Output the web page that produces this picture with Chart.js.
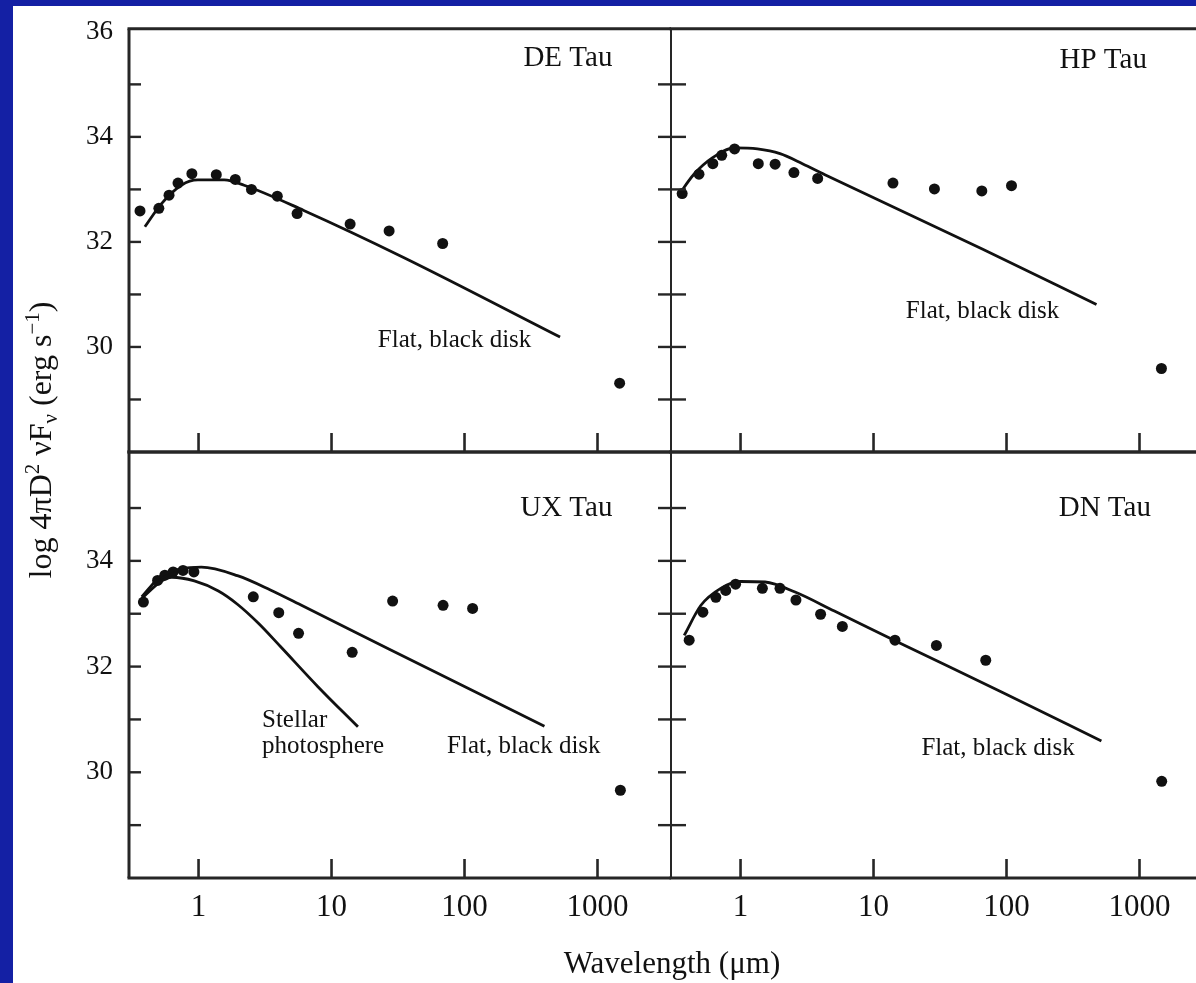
<!DOCTYPE html>
<html>
<head>
<meta charset="utf-8">
<script src="https://cdn.jsdelivr.net/npm/chart.js@4.4.1/dist/chart.umd.min.js"></script>
<style>
  html, body { margin: 0; padding: 0; width: 1196px; height: 983px; overflow: hidden; background: #1420a4; }
  #sheet { position: absolute; left: 13px; top: 6px; width: 1183px; height: 977px; background: #fff; }
  canvas { position: absolute; left: 0; top: 0; }
</style>
</head>
<body>
<div id="sheet"></div>
<canvas id="p-de" width="1220" height="983"></canvas>
<canvas id="p-hp" width="1220" height="983"></canvas>
<canvas id="p-ux" width="1220" height="983"></canvas>
<canvas id="p-dn" width="1220" height="983"></canvas>
<script>
// ---- axes ----
const waveTicks = [1, 10, 100, 1000];
const fluxTickMarks = [29, 30, 31, 32, 33, 34, 35];
const fluxLabelsTop = [30, 32, 34, 36];
const fluxLabelsBottom = [30, 32, 34];

// ---- DE Tau ----
const deWave = [0.363, 0.503, 0.600, 0.701, 0.891, 1.36, 1.89, 2.50, 3.91, 5.51, 13.8, 27.1, 68.5, 1467];
const deFlux = [32.59, 32.64, 32.89, 33.12, 33.30, 33.28, 33.19, 33.00, 32.87, 32.54, 32.34, 32.21, 31.97, 29.31];
const deDiskWave = [0.395, 0.527, 0.743, 0.988, 1.56, 2.20, 6.18, 34.5, 523];
const deDiskFlux = [32.29, 32.73, 33.08, 33.18, 33.18, 33.08, 32.60, 31.71, 30.19];

// ---- HP Tau ----
const hpWave = [0.364, 0.487, 0.619, 0.722, 0.902, 1.36, 1.82, 2.52, 3.80, 14.0, 28.7, 65.2, 109, 1462];
const hpFlux = [32.92, 33.29, 33.49, 33.65, 33.77, 33.49, 33.48, 33.32, 33.21, 33.12, 33.01, 32.97, 33.07, 29.59];
const hpDiskWave = [0.340, 0.443, 0.613, 0.905, 1.34, 1.98, 2.92, 4.31, 66.3, 475];
const hpDiskFlux = [32.88, 33.28, 33.60, 33.79, 33.77, 33.68, 33.49, 33.28, 31.86, 30.81];

// ---- UX Tau ----
const uxWave = [0.385, 0.492, 0.558, 0.644, 0.764, 0.923, 2.58, 4.01, 5.65, 14.3, 28.8, 69.0, 115, 1486];
const uxFlux = [33.22, 33.63, 33.73, 33.79, 33.82, 33.79, 33.32, 33.02, 32.63, 32.27, 33.24, 33.16, 33.10, 29.66];
const uxDiskWave = [0.374, 0.527, 0.743, 1.05, 1.96, 3.47, 6.15, 27.2, 399];
const uxDiskFlux = [33.32, 33.72, 33.85, 33.88, 33.72, 33.45, 33.14, 32.33, 30.87];
const uxStarWave = [0.374, 0.527, 0.63, 0.93, 1.41, 1.96, 2.82, 4.13, 7.9, 15.8];
const uxStarFlux = [33.29, 33.62, 33.69, 33.62, 33.43, 33.18, 32.82, 32.38, 31.62, 30.86];

// ---- DN Tau ----
const dnWave = [0.411, 0.521, 0.652, 0.774, 0.918, 1.46, 1.98, 2.61, 4.00, 5.83, 14.5, 29.7, 69.8, 1469];
const dnFlux = [32.50, 33.03, 33.31, 33.44, 33.56, 33.48, 33.48, 33.26, 32.99, 32.76, 32.50, 32.40, 32.12, 29.83];
const dnDiskWave = [0.377, 0.504, 0.71, 1.0, 1.53, 2.57, 5.08, 16.9, 93.4, 517];
const dnDiskFlux = [32.59, 33.16, 33.48, 33.61, 33.60, 33.41, 33.05, 32.41, 31.51, 30.59];

const SERIF = '"Liberation Serif", "Times New Roman", serif';
const INK = '#111';
Chart.defaults.font.family = SERIF;
Chart.defaults.color = INK;

const toXY = (xs, ys) => xs.map((x, i) => ({ x, y: ys[i] }));

/** frame lines + inward tick marks, all placed through the chart's scales */
const framePlugin = {
  id: 'frame',
  afterDraw(chart, args, o) {
    const { ctx, chartArea: a, scales: { x, y } } = chart;
    const seg = (x1, y1, x2, y2, w) => {
      ctx.lineWidth = w;
      ctx.beginPath(); ctx.moveTo(x1, y1); ctx.lineTo(x2, y2); ctx.stroke();
    };
    ctx.save();
    ctx.strokeStyle = '#262626';
    seg(a.left - 1.5, a.top, a.right, a.top, 3);
    seg(a.left - 1.5, a.bottom, a.right, a.bottom, 3);
    seg(a.left, a.top, a.left, a.bottom, o.leftWidth);
    for (const v of fluxTickMarks) {
      const py = y.getPixelForValue(v);
      seg(a.left + o.tickFrom, py, a.left + o.tickTo, py, 2.4);
    }
    for (const v of waveTicks) {
      const px = x.getPixelForValue(v);
      seg(px, a.bottom, px, a.bottom - 19, 2.6);
    }
    ctx.restore();
  }
};

/** labels anchored in data coordinates */
const notesPlugin = {
  id: 'notes',
  afterDatasetsDraw(chart, args, o) {
    const { ctx, scales: { x, y } } = chart;
    ctx.save();
    ctx.fillStyle = INK;
    ctx.textBaseline = 'middle';
    for (const t of o.items || []) {
      ctx.font = t.font;
      ctx.textAlign = t.align || 'left';
      ctx.fillText(t.text, x.getPixelForValue(t.x), y.getPixelForValue(t.y));
    }
    ctx.restore();
  }
};

/** shared axis titles (drawn once, from the lower-left panel) */
const axisTitlesPlugin = {
  id: 'axisTitles',
  afterDraw(chart) {
    const { ctx, chartArea: a } = chart;
    ctx.save();
    ctx.fillStyle = INK;
    ctx.font = `31px ${SERIF}`;
    ctx.textAlign = 'center';
    ctx.textBaseline = 'middle';
    ctx.fillText('Wavelength (\u03bcm)', a.right + 1, a.bottom + 87);

    const parts = [
      ['log 4\u03c0D', 0], ['2', -1], [' \u03bdF', 0], ['\u03bd', 1], [' (erg s', 0], ['\u22121', -1], [')', 0]
    ];
    const fontFor = (k) => (k === 0 ? `32px ${SERIF}` : `21px ${SERIF}`);
    let total = 0;
    for (const [s, k] of parts) { ctx.font = fontFor(k); total += ctx.measureText(s).width; }
    ctx.translate(a.left - 88, a.top - 12);
    ctx.rotate(-Math.PI / 2);
    ctx.textAlign = 'left';
    ctx.textBaseline = 'alphabetic';
    let u = -total / 2;
    for (const [s, k] of parts) {
      ctx.font = fontFor(k);
      const v = 10 + (k < 0 ? -12 : k > 0 ? 6 : 0);
      ctx.fillText(s, u, v);
      u += ctx.measureText(s).width;
    }
    ctx.restore();
  }
};

function panelChart(id, cfg) {
  const lineSet = (wave, flux) => ({
    data: toXY(wave, flux),
    showLine: true,
    borderColor: INK,
    borderWidth: 2.8,
    pointRadius: 0,
    cubicInterpolationMode: 'monotone',
    clip: false,
  });
  return new Chart(document.getElementById(id).getContext('2d'), {
    type: 'scatter',
    data: {
      datasets: [
        ...cfg.models.map(m => lineSet(m[0], m[1])),
        {
          data: toXY(cfg.wave, cfg.flux),
          showLine: false,
          pointRadius: 5.5,
          pointBackgroundColor: INK,
          pointBorderWidth: 0,
          clip: false,
        }
      ]
    },
    options: {
      responsive: false,
      animation: false,
      events: [],
      layout: { padding: cfg.padding, autoPadding: false },
      plugins: {
        legend: { display: false },
        tooltip: { enabled: false },
        frame: cfg.frame,
        notes: { items: cfg.notes },
      },
      scales: {
        x: {
          type: 'logarithmic',
          min: 0.33, max: 3570,
          afterBuildTicks: (s) => { s.ticks = waveTicks.map(v => ({ value: v })); },
          afterFit: (s) => { s.height = cfg.showX ? 105 : 0; },
          grid: { display: false, drawTicks: false },
          border: { display: false },
          ticks: {
            display: cfg.showX, padding: 11, autoSkip: false, maxRotation: 0,
            font: { family: SERIF, size: 31 }, color: INK,
            callback: (v) => String(v),
          },
        },
        y: {
          type: 'linear',
          min: 28, max: 36.06,
          afterBuildTicks: (s) => { s.ticks = (cfg.yLabels || []).map(v => ({ value: v })); },
          afterFit: (s) => { s.width = cfg.yLabels ? 116 : 0; },
          grid: { display: false, drawTicks: false },
          border: { display: false },
          ticks: {
            display: !!cfg.yLabels, padding: 16, autoSkip: false,
            font: { family: SERIF, size: 27, lineHeight: 0.8 }, color: INK,
          },
        },
      },
    },
    plugins: [framePlugin, notesPlugin, ...(cfg.extra || [])],
  });
}

const leftFrame = { leftWidth: 3, tickFrom: 0, tickTo: 12 };
const rightFrame = { leftWidth: 2, tickFrom: -13, tickTo: 15 };
const title = (text, x, y) => ({ text, x, y, align: 'right', font: `29px ${SERIF}` });
const note = (text, x, y) => ({ text, x, y, align: 'left', font: `25px ${SERIF}` });

panelChart('p-de', {
  wave: deWave, flux: deFlux,
  models: [[deDiskWave, deDiskFlux]],
  yLabels: fluxLabelsTop, showX: false,
  padding: { left: 13, top: 28.7, right: 549, bottom: 531 },
  frame: leftFrame,
  notes: [title('DE Tau', 1294, 35.5), note('Flat, black disk', 22.3, 30.13)],
});

panelChart('p-hp', {
  wave: hpWave, flux: hpFlux,
  models: [[hpDiskWave, hpDiskFlux]],
  yLabels: null, showX: false,
  padding: { left: 671, top: 28.7, right: 7, bottom: 531 },
  frame: rightFrame,
  notes: [title('HP Tau', 1137, 35.46), note('Flat, black disk', 17.5, 30.67)],
});

panelChart('p-ux', {
  wave: uxWave, flux: uxFlux,
  models: [[uxDiskWave, uxDiskFlux], [uxStarWave, uxStarFlux]],
  yLabels: fluxLabelsBottom, showX: true,
  padding: { left: 13, top: 452, right: 549, bottom: 0 },
  frame: leftFrame,
  notes: [
    title('UX Tau', 1294, 34.99),
    note('Stellar', 3.0, 30.99), note('photosphere', 3.0, 30.48),
    note('Flat, black disk', 74, 30.49),
  ],
  extra: [axisTitlesPlugin],
});

panelChart('p-dn', {
  wave: dnWave, flux: dnFlux,
  models: [[dnDiskWave, dnDiskFlux]],
  yLabels: null, showX: true,
  padding: { left: 671, top: 452, right: 7, bottom: 0 },
  frame: rightFrame,
  notes: [title('DN Tau', 1218, 34.99), note('Flat, black disk', 22.9, 30.46)],
});
</script>
</body>
</html>
